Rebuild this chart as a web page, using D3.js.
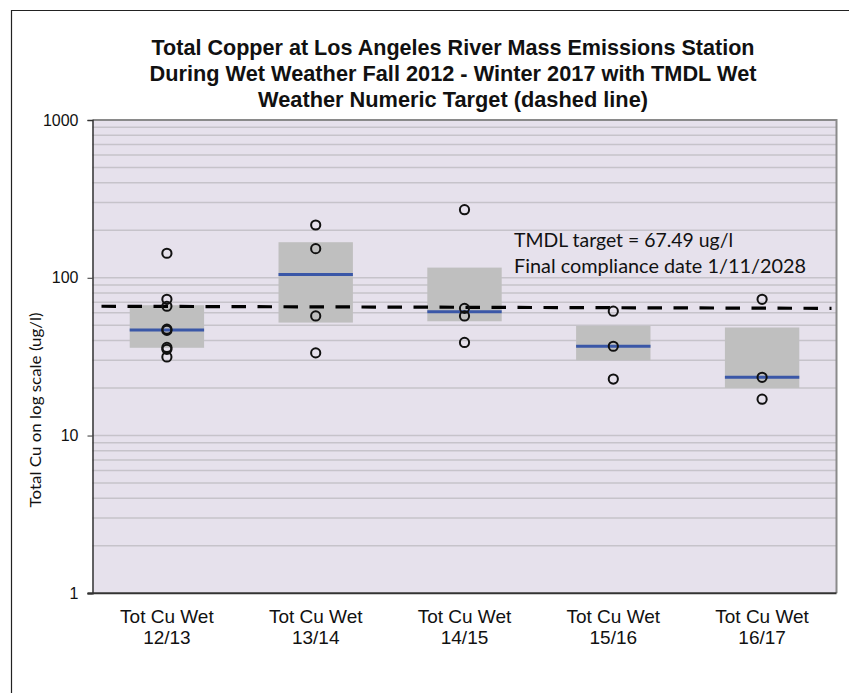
<!DOCTYPE html>
<html>
<head>
<meta charset="utf-8">
<script src="https://cdn.jsdelivr.net/npm/d3@7"></script>
<style>
  body { margin: 0; background: #fff; }
  svg { display: block; }
</style>
</head>
<body>
<div id="chart"></div>
<script>
// season categories (two label lines each)
const seasons = ["12/13", "13/14", "14/15", "15/16", "16/17"];
const labelPrefix = "Tot Cu Wet";

// box: upper / lower quartile and median (ug/l)
const boxUpper = [67, 168, 116, 49.5, 48.4];
const boxLower = [36, 52, 53, 30, 20];
const medians = [46.7, 105, 61, 36.8, 23.4];

// individual samples per season (ug/l)
const samples = [
  [143, 73, 66, 47.2, 46.4, 36.2, 35.2, 31.5],
  [216, 153, 57.3, 33.4],
  [270, 64, 57.3, 38.9],
  [61.4, 36.8, 22.8],
  [73, 23.4, 17]
];

// target line as drawn (start / end value) and its note
const targetLine = [66, 64];
const targetNote = ["TMDL target = 67.49 ug/l", "Final compliance date 1/11/2028"];

const yTicks = [1, 10, 100, 1000];
const titleLines = [
  "Total Copper at Los Angeles River Mass Emissions Station",
  "During Wet Weather Fall 2012 - Winter 2017 with TMDL Wet",
  "Weather Numeric Target (dashed line)"
];

const width = 849, height = 693;
const plot = { left: 92.5, right: 836.5, top: 120, bottom: 593.3 };

const svg = d3.select("#chart").append("svg")
  .attr("width", width)
  .attr("height", height);

// outer chart frame (runs off the page right/bottom)
svg.append("path")
  .attr("d", `M${width + 5},10.5 H11.5 V${height + 5}`)
  .attr("fill", "none")
  .attr("stroke", "#222")
  .attr("stroke-width", 1.2);

const x = d3.scaleBand()
  .domain(seasons)
  .range([plot.left, plot.right])
  .padding(0);

const y = d3.scaleLog()
  .domain([1, 1000])
  .range([plot.bottom, plot.top]);

// plot background
svg.append("rect")
  .attr("x", plot.left)
  .attr("y", plot.top)
  .attr("width", plot.right - plot.left)
  .attr("height", plot.bottom - plot.top)
  .attr("fill", "#E6E1EC");

// gridlines on every minor log step
const gridVals = y.ticks().filter(v => v > 1 && v < 1000);
svg.append("g")
  .selectAll("line")
  .data(gridVals)
  .join("line")
  .attr("x1", plot.left)
  .attr("x2", plot.right)
  .attr("y1", d => y(d))
  .attr("y2", d => y(d))
  .attr("stroke", "#C6C3CA")
  .attr("stroke-width", 1.5);

// plot border
svg.append("path")
  .attr("d", `M${plot.left},${plot.top} H${plot.right} V${plot.bottom}`)
  .attr("fill", "none")
  .attr("stroke", "#8a8a8a")
  .attr("stroke-width", 2);

const bw = x.bandwidth() * 0.5;
const cx = d => x(d) + x.bandwidth() / 2;

// boxes
svg.append("g")
  .selectAll("rect")
  .data(seasons)
  .join("rect")
  .attr("x", d => cx(d) - bw / 2)
  .attr("y", (d, i) => y(boxUpper[i]))
  .attr("width", bw)
  .attr("height", (d, i) => y(boxLower[i]) - y(boxUpper[i]))
  .attr("fill", "#BFBFBF");

// medians
svg.append("g")
  .selectAll("line")
  .data(seasons)
  .join("line")
  .attr("x1", d => cx(d) - bw / 2)
  .attr("x2", d => cx(d) + bw / 2)
  .attr("y1", (d, i) => y(medians[i]))
  .attr("y2", (d, i) => y(medians[i]))
  .attr("stroke", "#3A57A7")
  .attr("stroke-width", 3);

// target dashed line
svg.append("line")
  .attr("x1", plot.left + 9)
  .attr("x2", plot.right - 5)
  .attr("y1", y(targetLine[0]))
  .attr("y2", y(targetLine[1]))
  .attr("stroke", "#000")
  .attr("stroke-width", 3.2)
  .attr("stroke-dasharray", "14.5 11.5");

// sample points
const pts = seasons.flatMap((s, i) => samples[i].map(v => ({ s, v })));
svg.append("g")
  .selectAll("circle")
  .data(pts)
  .join("circle")
  .attr("cx", d => cx(d.s))
  .attr("cy", d => y(d.v))
  .attr("r", 4.6)
  .attr("fill", "none")
  .attr("stroke", "#111")
  .attr("stroke-width", 2);

// y axis
const yAxis = svg.append("g")
  .attr("transform", `translate(${plot.left},0)`)
  .call(d3.axisLeft(y).tickValues(yTicks).tickFormat(d3.format("d")).tickSize(5).tickPadding(9));
yAxis.select(".domain").attr("stroke", "#333").attr("stroke-width", 1.5);
yAxis.selectAll(".tick line").attr("stroke", "#333");
yAxis.selectAll("text")
  .attr("font-family", "Liberation Sans, Arial, sans-serif")
  .attr("font-size", 16)
  .attr("fill", "#111");

// x axis line
svg.append("line")
  .attr("x1", plot.left - 5)
  .attr("x2", plot.right)
  .attr("y1", plot.bottom)
  .attr("y2", plot.bottom)
  .attr("stroke", "#333")
  .attr("stroke-width", 2);

// x labels
const xl = svg.append("g")
  .selectAll("text")
  .data(seasons)
  .join("text")
  .attr("text-anchor", "middle")
  .attr("font-family", "Liberation Sans, Arial, sans-serif")
  .attr("font-size", 19)
  .attr("fill", "#111");
xl.append("tspan").attr("x", d => cx(d)).attr("y", 622.7).text(labelPrefix);
xl.append("tspan").attr("x", d => cx(d)).attr("y", 643.5).text(d => d);

// title
svg.append("g")
  .selectAll("text")
  .data(titleLines)
  .join("text")
  .attr("x", 453)
  .attr("y", (d, i) => 55 + i * 26)
  .attr("text-anchor", "middle")
  .attr("font-family", "Liberation Sans, Arial, sans-serif")
  .attr("font-weight", "bold")
  .attr("font-size", 21.5)
  .attr("textLength", (d, i) => [603, 607, 390][i])
  .attr("lengthAdjust", "spacingAndGlyphs")
  .attr("fill", "#111")
  .text(d => d);

// y axis title
svg.append("text")
  .attr("transform", "translate(41,410) rotate(-90)")
  .attr("text-anchor", "middle")
  .attr("font-family", "Lato, sans-serif")
  .attr("font-size", 16)
  .attr("textLength", 195)
  .attr("lengthAdjust", "spacingAndGlyphs")
  .attr("fill", "#111")
  .text("Total Cu on log scale (ug/l)");

// target note
svg.append("g")
  .selectAll("text")
  .data(targetNote)
  .join("text")
  .attr("x", 514)
  .attr("y", (d, i) => 246.7 + i * 26.7)
  .attr("font-family", "Lato, sans-serif")
  .attr("font-size", 19)
  .attr("textLength", (d, i) => [219, 292][i])
  .attr("lengthAdjust", "spacingAndGlyphs")
  .attr("fill", "#111")
  .text(d => d);
</script>
</body>
</html>
